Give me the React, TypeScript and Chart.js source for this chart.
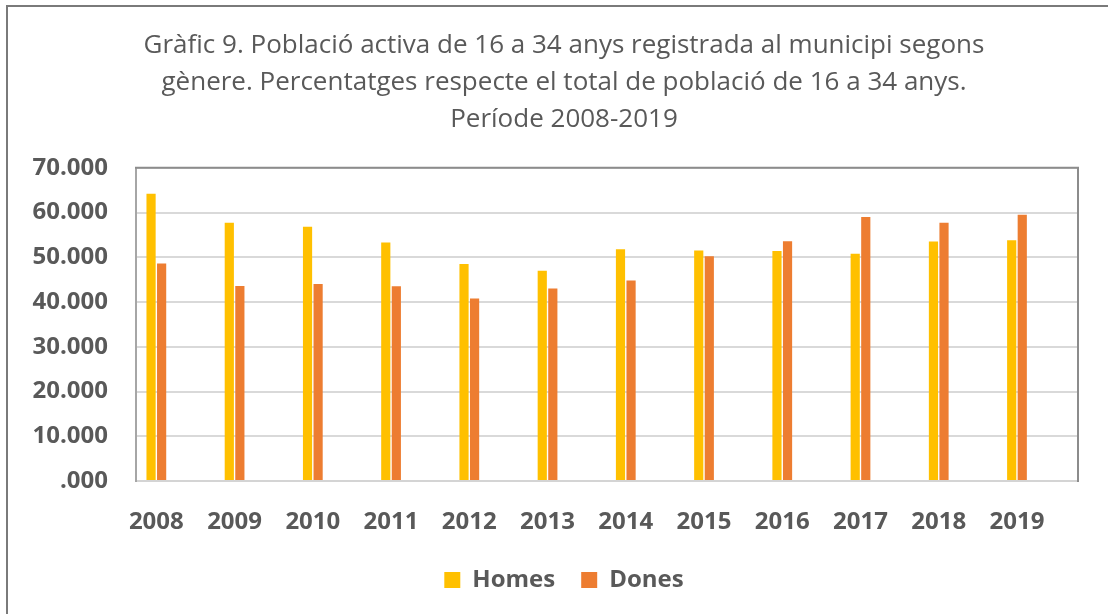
import React, { useEffect, useRef } from "react";
import { Chart, registerables } from "chart.js";

Chart.register(...registerables);

const years = ["2008", "2009", "2010", "2011", "2012", "2013", "2014", "2015", "2016", "2017", "2018", "2019"];
const homes = [64200, 57700, 56800, 53300, 48500, 47000, 51800, 51500, 51400, 50800, 53500, 53800];
const dones = [48600, 43600, 44000, 43500, 40800, 43000, 44800, 50200, 53600, 59000, 57700, 59500];
const titleLines = [
  "Gràfic 9. Població activa de 16 a 34 anys registrada al municipi segons",
  "gènere. Percentatges respecte el total de població de 16 a 34 anys.",
  "Període 2008-2019",
];
const yTicks = [0, 10000, 20000, 30000, 40000, 50000, 60000, 70000];

const TEXT = "#595959";
const FONT = "'Open Sans', sans-serif";

const frameTopRight = {
  id: "frameTopRight",
  afterLayout(chart: any) {
    // let the y tick labels extend left of the axis box without clipping
    if (chart.scales.y) chart.scales.y.left = 0;
  },
  afterDraw(chart: any) {
    const { ctx, chartArea } = chart;
    ctx.save();
    ctx.strokeStyle = "#8c8c8c";
    ctx.lineWidth = 2;
    ctx.beginPath();
    ctx.moveTo(chartArea.left - 1, chartArea.top);
    ctx.lineTo(chartArea.right, chartArea.top);
    ctx.lineTo(chartArea.right, chartArea.bottom + 1);
    ctx.stroke();
    ctx.restore();
  },
};

export default function App() {
  const ref = useRef<HTMLCanvasElement>(null);
  useEffect(() => {
    if (!ref.current) return;
    const chart = new Chart(ref.current, {
      type: "bar",
      data: {
        datasets: [
          {
            label: "Homes",
            data: years.map((_, i) => ({ x: i, y: homes[i] })),
            backgroundColor: "#FFC000",
            borderWidth: 0,
          },
          {
            label: "Dones",
            data: years.map((_, i) => ({ x: i, y: dones[i] })),
            backgroundColor: "#ED7D31",
            borderWidth: 0,
          },
        ],
      },
      options: {
        responsive: false,
        animation: false,
        devicePixelRatio: 1,
        layout: { padding: { left: 50, right: 30, top: 14, bottom: 12 } },
        datasets: { bar: { categoryPercentage: 0.27, barPercentage: 0.87 } },
        plugins: {
          title: {
            display: true,
            text: titleLines,
            color: TEXT,
            font: { family: FONT, size: 26, weight: "normal", lineHeight: 1.42 },
            padding: { top: 13, bottom: 30 },
          },
          legend: {
            position: "bottom",
            labels: {
              color: TEXT,
              font: { family: FONT, size: 24, weight: "bold" },
              boxWidth: 16,
              boxHeight: 16,
              padding: 26,
            },
          },
          tooltip: { enabled: false },
        },
        scales: {
          x: {
            type: "linear",
            min: -0.26,
            max: 11.78,
            offset: false,
            grid: { display: false, drawTicks: false },
            border: { color: "#d4d4d4", width: 2 },
            afterBuildTicks: (axis: any) => {
              axis.ticks = years.map((_, i) => ({ value: i }));
            },
            afterFit: (axis: any) => {
              axis.height = 61;
            },
            ticks: {
              color: TEXT,
              font: { family: FONT, size: 24, weight: "bold" },
              padding: 27,
              maxRotation: 0,
              autoSkip: false,
              callback: (v: any) => years[v as number] ?? "",
            },
          },
          y: {
            min: 0,
            max: 70000,
            afterBuildTicks: (axis: any) => {
              axis.ticks = yTicks.map((v) => ({ value: v }));
            },
            afterFit: (axis: any) => {
              axis.width = 86;
            },
            grid: { color: "#d9d9d9", lineWidth: 2, drawTicks: false },
            border: { color: "#a6a6a6", width: 2 },
            ticks: {
              color: TEXT,
              font: { family: FONT, size: 24, weight: "bold" },
              padding: 28,
              callback: (v: any) => (v === 0 ? ".000" : `${(v as number) / 1000}.000`),
            },
          },
        },
      },
      plugins: [frameTopRight],
    });
    return () => chart.destroy();
  }, []);

  return (
    <div style={{ position: "fixed", left: 0, top: 0, width: 1108, height: 614, background: "#fff" }}>
      <div
        style={{
          position: "absolute",
          left: 6,
          top: 5,
          right: 0,
          bottom: 0,
          borderTop: "2px solid #7a7a7a",
          borderLeft: "2px solid #7a7a7a",
        }}
      />
      <canvas ref={ref} width={1108} height={614} style={{ position: "absolute", left: 0, top: 0 }} />
    </div>
  );
}
